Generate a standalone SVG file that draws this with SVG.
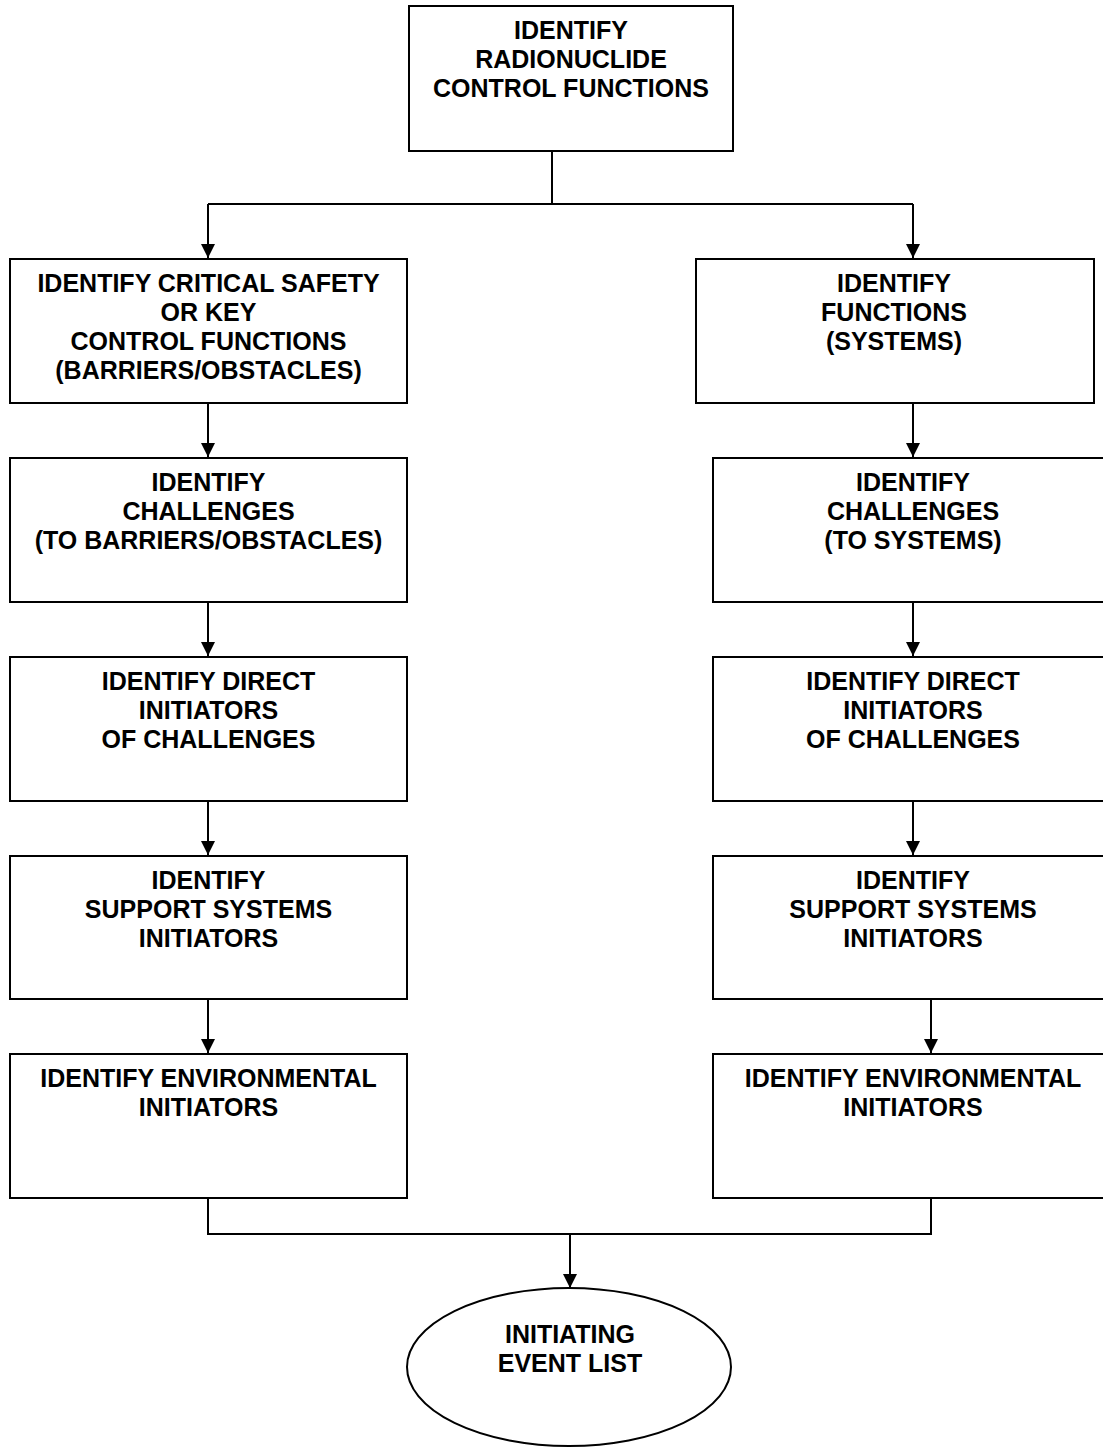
<svg xmlns="http://www.w3.org/2000/svg" width="1103" height="1448" viewBox="0 0 1103 1448">
<style>
.box{fill:#fff;stroke:#000;stroke-width:2}
.t{font-family:"Liberation Sans",Arial,sans-serif;font-weight:bold;font-size:25px;text-anchor:middle;fill:#000}
.c{fill:none;stroke:#000;stroke-width:2}
</style>
<defs>
<marker id="ah" markerWidth="14" markerHeight="15" refX="14" refY="7" orient="auto" markerUnits="userSpaceOnUse">
<path d="M0,0 L14,7 L0,14 Z" fill="#000"/>
</marker>
</defs>
<rect width="1103" height="1448" fill="#fff"/>
<g id="connectors">
<path class="c" d="M552,151 V204 M208,204 H913"/>
<path class="c" d="M208,204 V258" marker-end="url(#ah)"/>
<path class="c" d="M913,204 V258" marker-end="url(#ah)"/>
<path class="c" d="M208,403 V457" marker-end="url(#ah)"/>
<path class="c" d="M208,602 V656" marker-end="url(#ah)"/>
<path class="c" d="M208,801 V855" marker-end="url(#ah)"/>
<path class="c" d="M208,999 V1053" marker-end="url(#ah)"/>
<path class="c" d="M913,403 V457" marker-end="url(#ah)"/>
<path class="c" d="M913,602 V656" marker-end="url(#ah)"/>
<path class="c" d="M913,801 V855" marker-end="url(#ah)"/>
<path class="c" d="M931,999 V1053" marker-end="url(#ah)"/>
<path class="c" d="M208,1198 V1234 H931 V1198"/>
<path class="c" d="M570,1234 V1288" marker-end="url(#ah)"/>
</g>
<g id="n-top">
<rect class="box" x="409" y="6" width="324" height="145"/>
<text class="t" x="571" y="39">IDENTIFY</text>
<text class="t" x="571" y="68">RADIONUCLIDE</text>
<text class="t" x="571" y="97">CONTROL FUNCTIONS</text>
</g>
<g id="n-l1">
<rect class="box" x="10" y="259" width="397" height="144"/>
<text class="t" x="208.5" y="292">IDENTIFY CRITICAL SAFETY</text>
<text class="t" x="208.5" y="321">OR KEY</text>
<text class="t" x="208.5" y="350">CONTROL FUNCTIONS</text>
<text class="t" x="208.5" y="379">(BARRIERS/OBSTACLES)</text>
</g>
<g id="n-l2">
<rect class="box" x="10" y="458" width="397" height="144"/>
<text class="t" x="208.5" y="491">IDENTIFY</text>
<text class="t" x="208.5" y="520">CHALLENGES</text>
<text class="t" x="208.5" y="549">(TO BARRIERS/OBSTACLES)</text>
</g>
<g id="n-l3">
<rect class="box" x="10" y="657" width="397" height="144"/>
<text class="t" x="208.5" y="690">IDENTIFY DIRECT</text>
<text class="t" x="208.5" y="719">INITIATORS</text>
<text class="t" x="208.5" y="748">OF CHALLENGES</text>
</g>
<g id="n-l4">
<rect class="box" x="10" y="856" width="397" height="143"/>
<text class="t" x="208.5" y="889">IDENTIFY</text>
<text class="t" x="208.5" y="918">SUPPORT SYSTEMS</text>
<text class="t" x="208.5" y="947">INITIATORS</text>
</g>
<g id="n-l5">
<rect class="box" x="10" y="1054" width="397" height="144"/>
<text class="t" x="208.5" y="1087">IDENTIFY ENVIRONMENTAL</text>
<text class="t" x="208.5" y="1116">INITIATORS</text>
</g>
<g id="n-r1">
<rect class="box" x="696" y="259" width="398" height="144"/>
<text class="t" x="894" y="292">IDENTIFY</text>
<text class="t" x="894" y="321">FUNCTIONS</text>
<text class="t" x="894" y="350">(SYSTEMS)</text>
</g>
<g id="n-r2">
<rect class="box" x="713" y="458" width="400" height="144"/>
<text class="t" x="913" y="491">IDENTIFY</text>
<text class="t" x="913" y="520">CHALLENGES</text>
<text class="t" x="913" y="549">(TO SYSTEMS)</text>
</g>
<g id="n-r3">
<rect class="box" x="713" y="657" width="400" height="144"/>
<text class="t" x="913" y="690">IDENTIFY DIRECT</text>
<text class="t" x="913" y="719">INITIATORS</text>
<text class="t" x="913" y="748">OF CHALLENGES</text>
</g>
<g id="n-r4">
<rect class="box" x="713" y="856" width="400" height="143"/>
<text class="t" x="913" y="889">IDENTIFY</text>
<text class="t" x="913" y="918">SUPPORT SYSTEMS</text>
<text class="t" x="913" y="947">INITIATORS</text>
</g>
<g id="n-r5">
<rect class="box" x="713" y="1054" width="400" height="144"/>
<text class="t" x="913" y="1087">IDENTIFY ENVIRONMENTAL</text>
<text class="t" x="913" y="1116">INITIATORS</text>
</g>
<g id="n-end">
<ellipse class="box" cx="569" cy="1367" rx="162" ry="79"/>
<text class="t" x="570" y="1343">INITIATING</text>
<text class="t" x="570" y="1372">EVENT LIST</text>
</g>
</svg>
